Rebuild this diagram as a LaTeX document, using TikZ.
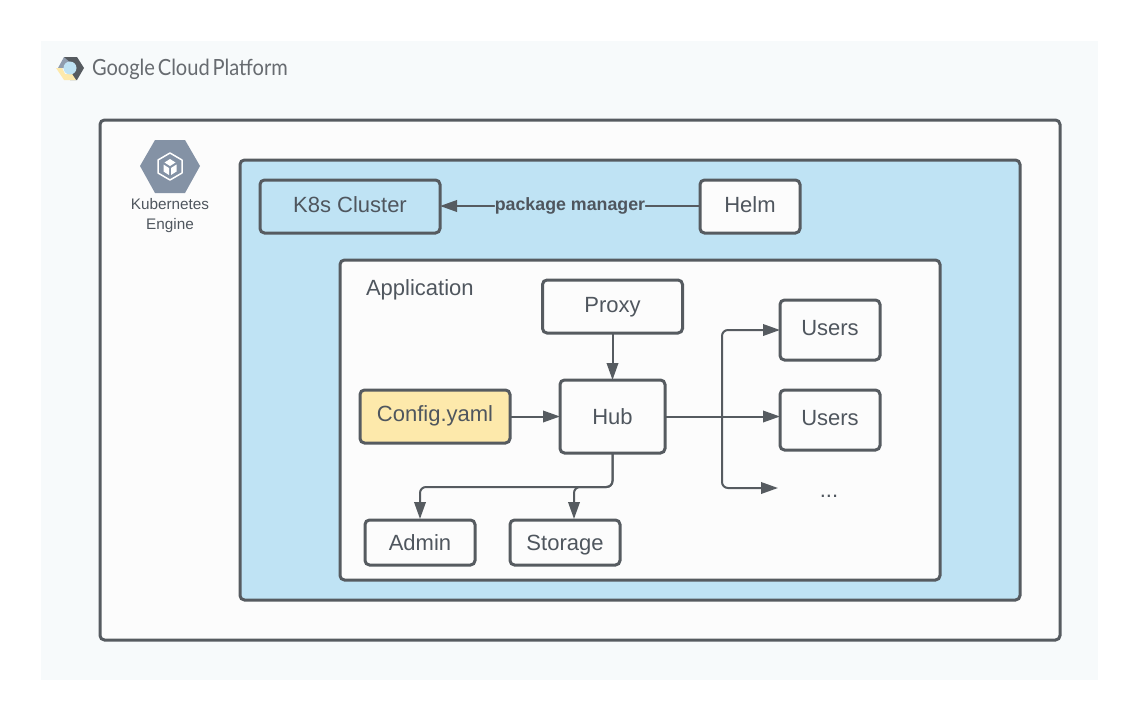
\documentclass[tikz,border=0pt]{standalone}
\usepackage{fontspec}
\setmainfont{Liberation Sans}
\newfontfamily\logofont[FakeStretch=0.9,WordSpace=0.55]{Lato}
\usetikzlibrary{arrows.meta,positioning}
\definecolor{ink}{HTML}{565B60}
\definecolor{txt}{HTML}{4F565E}
\definecolor{page}{HTML}{F7FAFB}
\definecolor{panel}{HTML}{FCFCFC}
\definecolor{sky}{HTML}{BFE3F4}
\definecolor{sand}{HTML}{FDE9AB}
\definecolor{slatehex}{HTML}{8492A5}
\tikzset{
  x=1pt,y=1pt,
  every node/.style={inner sep=0pt,outer sep=0pt,text=txt,font=\fontsize{22}{26}\selectfont},
  frame/.style={draw=ink,line width=3pt,rounded corners=4.5pt},
  box/.style={frame,fill=panel,align=center},
  bl/.style={text height=16pt,text depth={16pt-2*#1}},
  link/.style={draw=ink,line width=2pt,rounded corners=6pt},
  arrow/.style={link,-{Triangle[length=17pt,width=11.5pt]}}
}
\begin{document}
\begin{tikzpicture}
\useasboundingbox (0,0) rectangle (1140,-720);
\fill[page] (41,-41) rectangle (1098,-680);
% containers
\node[frame,fill=panel,minimum width=960pt,minimum height=520pt] (gke) at (580,-380) {};
\node[frame,fill=sky,minimum width=780pt,minimum height=440pt] (cluster) at (630,-380) {};
\node[frame,fill=panel,minimum width=600pt,minimum height=320pt] (app) at (640,-420) {};
% logo
\fill[slatehex!90!white] (58,-68) -- (64,-57) -- (77,-57) -- (72,-68) -- cycle;
\fill[ink] (64,-57) -- (77,-57) -- (84,-68) -- (77,-80) -- (70,-80) -- (75,-68) -- (70,-62) -- cycle;
\fill[sand] (56,-68) -- (64,-80) -- (76,-80) -- (72,-74) -- (65,-74) -- (62,-68) -- cycle;
\fill[sky] (70,-68) circle (6.5);
\node[anchor=west,font=\logofont\fontsize{22.3}{26}\selectfont,text=ink!90] (gcp) at (92,-69) {Google Cloud Platform};
% kubernetes icon
\fill[slatehex] (140,-166) -- (155,-140) -- (185,-140) -- (200,-166) -- (185,-193) -- (155,-193) -- cycle;
\draw[white,line width=1.5pt,line join=round]
  (170,-153) -- (182,-160) -- (182,-173) -- (170,-180) -- (158,-173) -- (158,-160) -- cycle;
\fill[white] (170,-159) -- (175.5,-162.5) -- (170,-166) -- (164.5,-162.5) -- cycle;
\fill[white] (163.5,-164.5) -- (169,-168) -- (169,-175) -- (163.5,-171.5) -- cycle;
\fill[white] (176.5,-164.5) -- (171,-168) -- (171,-175) -- (176.5,-171.5) -- cycle;
\node[align=center,font=\fontsize{15.3}{20}\selectfont] (kelabel) at (170,-215.5) {Kubernetes\\Engine};
% boxes
\node[frame,fill=sky,minimum width=180pt,minimum height=53pt,bl=5.5] (k8s) at (350,-206.5) {K8s Cluster};
\node[box,minimum width=100pt,minimum height=53pt,bl=5.5] (helm) at (750,-206.5) {Helm};
\node[anchor=west] (applabel) at (366,-290) {Application};
\node[box,minimum width=140pt,minimum height=53pt,bl=6] (proxy) at (612.5,-306.5) {Proxy};
\node[frame,fill=sand,minimum width=150pt,minimum height=53pt,bl=4.5] (config) at (435,-416.5) {Config.yaml};
\node[box,minimum width=105pt,minimum height=73pt,bl=7.5] (hub) at (612.5,-416.5) {Hub};
\node[box,minimum width=100pt,minimum height=60pt,bl=5] (users1) at (830,-330) {Users};
\node[box,minimum width=100pt,minimum height=60pt,bl=5] (users2) at (830,-420) {Users};
\node (more) at (829,-496) {...};
\node[box,minimum width=110pt,minimum height=45pt,bl=7.5] (admin) at (420,-542.5) {Admin};
\node[box,minimum width=110pt,minimum height=45pt,bl=7.5] (storage) at (565,-542.5) {Storage};
% connectors
\coordinate (mid) at (722,-416.5);
\coordinate (moreend) at (778,-488);
\coordinate (adminend) at (420,-519);
\coordinate (storageend) at (574,-519);
\draw[arrow] (helm.west |- 0,-206) -- (k8s.east |- 0,-206)
  node[midway,fill=sky,inner ysep=1pt,font=\bfseries\fontsize{17.8}{20}\selectfont,text=txt] (pm) {package manager};
\draw[arrow] (proxy.south) -- (hub.north);
\draw[arrow] (config.east) -- (hub.west);
\draw[link] (hub.east) -- (mid);
\draw[arrow] (mid) -- (mid |- users1.west) -- (users1.west);
\draw[arrow] (mid) -- (users2.west |- mid);
\draw[arrow] (mid) -- (mid |- moreend) -- (moreend);
\draw[arrow] (hub.south) -- (612.5,-487) -- (420,-487) -- (adminend);
\draw[arrow] (hub.south) -- (612.5,-487) -- (574,-487) -- (storageend);
\end{tikzpicture}
\end{document}
